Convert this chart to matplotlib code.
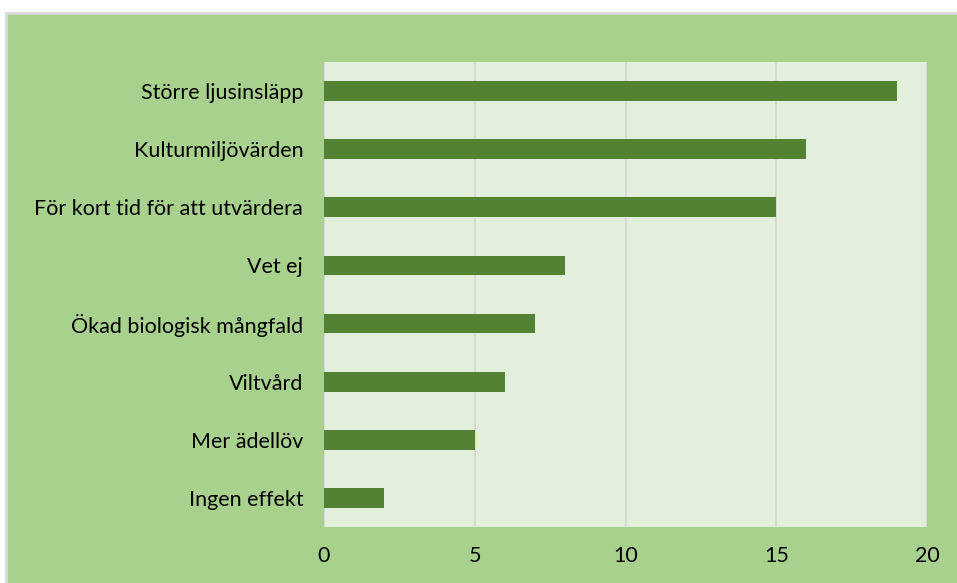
import matplotlib.pyplot as plt
from matplotlib.patches import Rectangle

categories = ["Större ljusinsläpp", "Kulturmiljövärden", "För kort tid för att utvärdera",
              "Vet ej", "Ökad biologisk mångfald", "Viltvård", "Mer ädellöv", "Ingen effekt"]
values = [19, 16, 15, 8, 7, 6, 5, 2]
xticks = [0, 5, 10, 15, 20]

plt.rcParams['font.family'] = ['Lato', 'DejaVu Sans']

fig = plt.figure(figsize=(9.57, 5.83), dpi=100)
fig.patch.set_facecolor('white')

# green chart background with grey frame (cropped at right and bottom)
bg = Rectangle((6 / 957, -0.01), 1.0, 1 - 13 / 583 + 0.01, transform=fig.transFigure,
               facecolor='#A9D18E', edgecolor='#D9D9D9', linewidth=2, zorder=-10)
fig.add_artist(bg)

ax = fig.add_axes([324 / 957, 1 - 527 / 583, (927 - 324) / 957, (527 - 62) / 583])
ax.set_facecolor('#E2EFDA')

ypos = list(range(len(categories)))[::-1]
ax.barh(ypos, values, height=0.34, color='#548235', zorder=3)

ax.set_xlim(0, 20)
ax.set_ylim(-0.5, len(categories) - 0.5)
ax.set_xticks(xticks)
ax.set_yticks(ypos)
ax.set_yticklabels(categories)
for x in xticks:
    ax.axvline(x, color='#D9D9D9', linewidth=1.5, zorder=1)

for s in ax.spines.values():
    s.set_visible(False)
ax.tick_params(axis='both', length=0, labelsize=15.5, colors='black')
ax.tick_params(axis='x', pad=14)
ax.tick_params(axis='y', pad=15)

fig.savefig('out.png', dpi=100)
